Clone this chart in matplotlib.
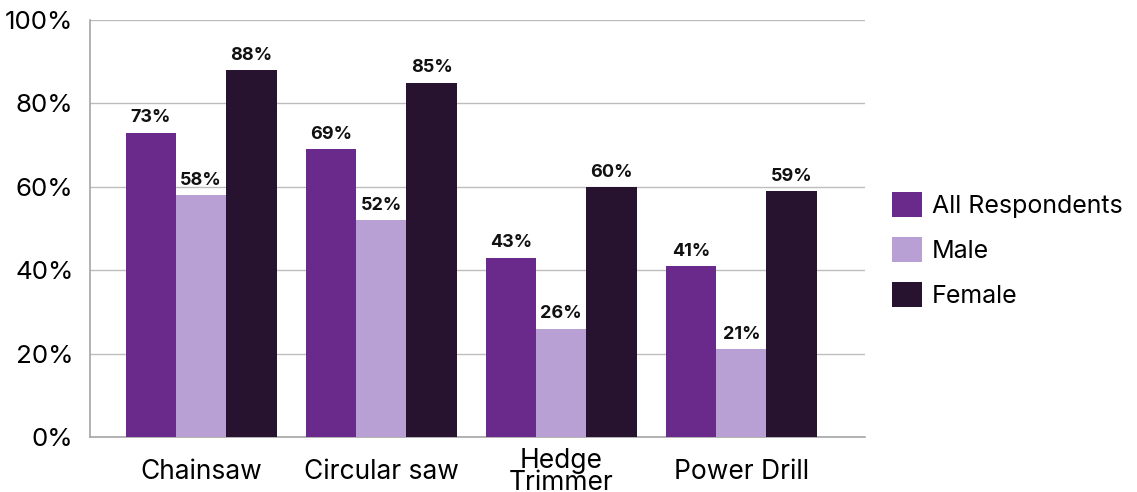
import numpy as np
import matplotlib.pyplot as plt

plt.rcParams['font.family'] = ['Inter', 'DejaVu Sans']

tools = ['Chainsaw', 'Circular saw', 'Hedge\nTrimmer', 'Power Drill']
all_resp = [73, 69, 43, 41]
male = [58, 52, 26, 21]
female = [88, 85, 60, 59]
series = ['All Respondents', 'Male', 'Female']
colors = ['#6a2a8b', '#b8a0d4', '#27122f']

fig = plt.figure(figsize=(11.37, 4.92), dpi=100)
ax = fig.add_axes([0.0792, 0.1118, 0.682, 0.8475])

x = np.arange(len(tools))
w = 0.28
for i, (vals, name, c) in enumerate(zip([all_resp, male, female], series, colors)):
    bars = ax.bar(x + (i - 1) * w, vals, w, color=c, label=name, zorder=3)
    for b, v in zip(bars, vals):
        ax.text(b.get_x() + b.get_width() / 2, v + 1.5, f'{v}%', ha='center', va='bottom',
                fontsize=13, fontweight='bold', color='#111111')

ax.set_ylim(0, 100)
ax.set_xlim(-0.617, 3.69)
ax.set_yticks(range(0, 101, 20))
ax.set_yticklabels([f'{t}%' for t in range(0, 101, 20)], fontsize=18.7)
ax.set_xticks(x)
ax.set_xticklabels(tools, fontsize=19, linespacing=0.8, va='center')
ax.tick_params(axis='x', length=0, pad=25)
ax.tick_params(axis='y', length=0, pad=12)
ax.grid(axis='y', color='#bdbdbd', linewidth=1, zorder=0)
for s in ['top', 'right']:
    ax.spines[s].set_visible(False)
for s in ['left', 'bottom']:
    ax.spines[s].set_color('#a6a6a6')
    ax.spines[s].set_linewidth(1.2)

fig.legend(loc='center left', bbox_to_anchor=(0.7646, 0.492), frameon=False, fontsize=18,
           handlelength=1.2, handleheight=1.2, handletextpad=0.4, labelspacing=0.75)

fig.savefig('out.png', dpi=100)
